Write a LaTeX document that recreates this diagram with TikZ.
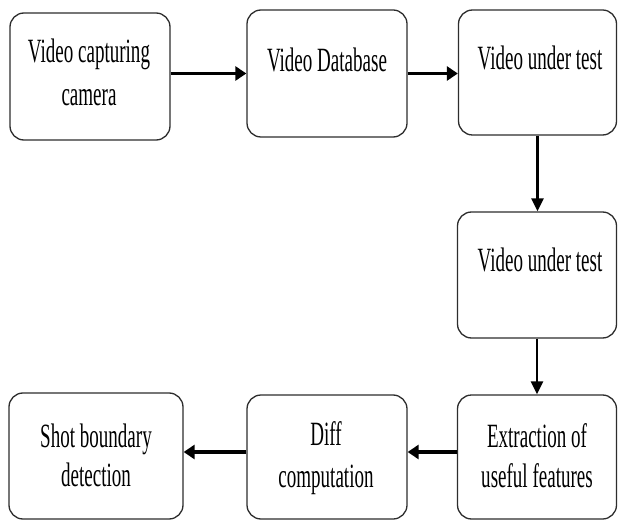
\documentclass[tikz,border=0pt]{standalone}
\usepackage{fontspec}
\usetikzlibrary{arrows.meta}
\newfontfamily\tf[FakeStretch=0.56]{Liberation Serif}
\definecolor{edge}{RGB}{45,45,45}
\tikzset{
  box/.style={draw=edge, line width=1.3pt, rounded corners=14pt, inner sep=0pt, fill=white},
  txt/.style={inner sep=0pt, anchor=base, font=\tf\fontsize{34}{42}\selectfont},
  harr/.style={line width=3.6pt, -{Triangle[length=11pt,width=14pt]}},
  varr/.style={line width=2.4pt, -{Triangle[length=13pt,width=12pt]}}
}
\begin{document}
\begin{tikzpicture}[x=1pt,y=-1pt]
\useasboundingbox[fill=white] (0,0) rectangle (618,521);
% boxes
\node[box, minimum width=160pt, minimum height=127pt] (b1) at (90,76.5) {};
\node[box, minimum width=160pt, minimum height=127pt] (b2) at (327,73.5) {};
\node[box, minimum width=158pt, minimum height=125pt] (b3) at (537.5,72.5) {};
\node[box, minimum width=159pt, minimum height=126pt] (b4) at (537,275) {};
\node[box, minimum width=159pt, minimum height=124pt] (b5) at (537,457) {};
\node[box, minimum width=160pt, minimum height=124pt] (b6) at (327,457) {};
\node[box, minimum width=174pt, minimum height=126pt] (b7) at (96,456) {};
% texts
\node[txt] (t1a) at (89,63) {Video capturing};
\node[txt] (t1b) at (89,106) {camera};
\node[txt] (t2) at (327,72) {Video Database};
\node[txt] (t3) at (540,70) {Video under test};
\node[txt] (t4) at (540,272) {Video under test};
\node[txt] (t5a) at (537,447) {Extraction of};
\node[txt] (t5b) at (537,487) {useful features};
\node[txt] (t6a) at (326,445) {Diff};
\node[txt] (t6b) at (326,487) {computation};
\node[txt] (t7a) at (96,447) {Shot boundary};
\node[txt] (t7b) at (96,486) {detection};
% connectors
\draw[harr] (b1.east |- b2.center) -- (b2.west);
\draw[harr] (b2.east) -- (b2.east -| b3.west);
\draw[varr] (b3.south) -- (b3.south |- b4.north);
\draw[varr] (b4.south) -- (b4.south |- b5.north);
\draw[harr] ([yshift=5pt]b5.west) -- ([yshift=5pt]b5.west -| b6.east);
\draw[harr] ([yshift=5pt]b6.west) -- ([yshift=5pt]b6.west -| b7.east);
\end{tikzpicture}
\end{document}
